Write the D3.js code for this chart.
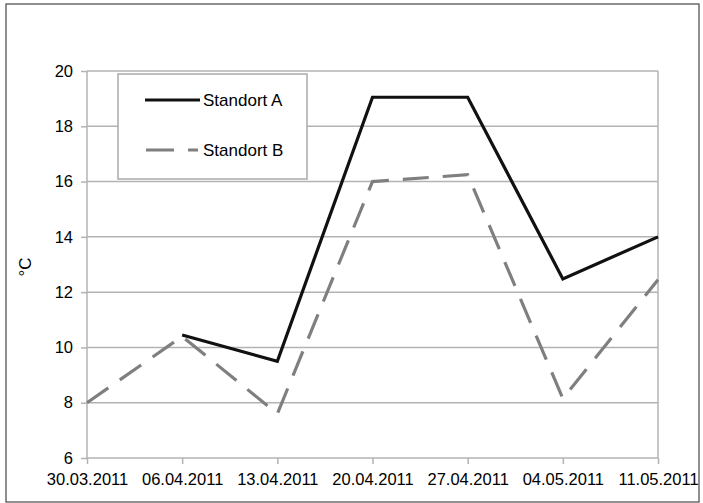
<!DOCTYPE html>
<html>
<head>
<meta charset="utf-8">
<script src="https://cdn.jsdelivr.net/npm/d3@7"></script>
<style>
  html, body { margin: 0; padding: 0; background: #fff; }
  svg text { font-family: "Liberation Sans", Arial, sans-serif; fill: #000; }
</style>
</head>
<body>
<svg id="chart" width="703" height="503"></svg>
<script>
// Messdaten: Temperatur an zwei Standorten
const dates = ["30.03.2011", "06.04.2011", "13.04.2011", "20.04.2011", "27.04.2011", "04.05.2011", "11.05.2011"];
const standortA = [null, 10.45, 9.5, 19.05, 19.05, 12.48, 14.0];
const standortB = [8.0, 10.4, 7.6, 16.0, 16.25, 8.15, 12.45];
const yTicks = [6, 8, 10, 12, 14, 16, 18, 20];
const seriesNames = ["Standort A", "Standort B"];

const svg = d3.select("#chart");
const W = 703, H = 503;
const m = { left: 87, right: 658, top: 71, bottom: 458 };

// Rahmen
svg.append("rect")
  .attr("x", 6).attr("y", 4).attr("width", W - 10).attr("height", H - 5)
  .attr("fill", "#fff").attr("stroke", "#555").attr("stroke-width", 1.3);

const x = d3.scalePoint().domain(dates).range([m.left, m.right]);
const y = d3.scaleLinear().domain([6, 20]).range([m.bottom, m.top]);

// Gitterlinien
svg.append("g")
  .selectAll("line").data(yTicks.filter(t => t > 6)).join("line")
  .attr("x1", m.left).attr("x2", m.right)
  .attr("y1", d => y(d)).attr("y2", d => y(d))
  .attr("stroke", "#b3b3b3").attr("stroke-width", 1.5);

// Rechter Rand der Zeichenfläche
svg.append("line")
  .attr("x1", m.right).attr("x2", m.right).attr("y1", m.top).attr("y2", m.bottom)
  .attr("stroke", "#b3b3b3").attr("stroke-width", 1.5);

// Y-Achse
const yAxis = svg.append("g")
  .attr("transform", `translate(${m.left},0)`)
  .call(d3.axisLeft(y).tickValues(yTicks).tickSize(6).tickPadding(8).tickFormat(d3.format("d")));
yAxis.selectAll("path, line").attr("stroke", "#b3b3b3").attr("stroke-width", 1.5);
yAxis.select(".domain").attr("d", `M0,${m.top}V${m.bottom}`);
yAxis.selectAll("text").style("font-size", "16.5px").attr("fill", "#111");

// X-Achse
const xAxis = svg.append("g")
  .attr("transform", `translate(0,${m.bottom})`)
  .call(d3.axisBottom(x).tickSize(6).tickPadding(9));
xAxis.selectAll("path, line").attr("stroke", "#b3b3b3").attr("stroke-width", 1.5);
xAxis.select(".domain").attr("d", `M${m.left},0H${m.right}`);
xAxis.selectAll("text").style("font-size", "16.5px").attr("fill", "#111");

// Achsenbeschriftung
svg.append("text")
  .attr("transform", `translate(31,267) rotate(-90)`)
  .attr("text-anchor", "middle")
  .style("font-size", "17px")
  .text("°C");

// Linien
const line = d3.line()
  .defined(d => d.v != null)
  .x(d => x(d.date))
  .y(d => y(d.v));

const toPoints = vals => dates.map((date, i) => ({ date, v: vals[i] }));

svg.append("path")
  .datum(toPoints(standortB))
  .attr("d", line)
  .attr("fill", "none")
  .attr("stroke", "#7f7f7f")
  .attr("stroke-width", 3.2)
  .attr("stroke-dasharray", "26,14");

svg.append("path")
  .datum(toPoints(standortA))
  .attr("d", line)
  .attr("fill", "none")
  .attr("stroke", "#111")
  .attr("stroke-width", 3.2)
  .attr("stroke-linejoin", "miter");

// Legende
const lg = svg.append("g");
lg.append("rect")
  .attr("x", 118).attr("y", 74).attr("width", 189).attr("height", 105)
  .attr("fill", "#fff").attr("stroke", "#aaa").attr("stroke-width", 1.5);
lg.append("line")
  .attr("x1", 145).attr("x2", 200).attr("y1", 100).attr("y2", 100)
  .attr("stroke", "#111").attr("stroke-width", 3.2);
lg.append("line")
  .attr("x1", 146).attr("x2", 198).attr("y1", 150).attr("y2", 150)
  .attr("stroke", "#7f7f7f").attr("stroke-width", 3.2)
  .attr("stroke-dasharray", "28,14");
lg.selectAll("text.lbl").data(seriesNames).join("text")
  .attr("class", "lbl")
  .attr("x", 203)
  .attr("y", (d, i) => 106 + i * 50)
  .style("font-size", "17px")
  .text(d => d);
</script>
</body>
</html>
